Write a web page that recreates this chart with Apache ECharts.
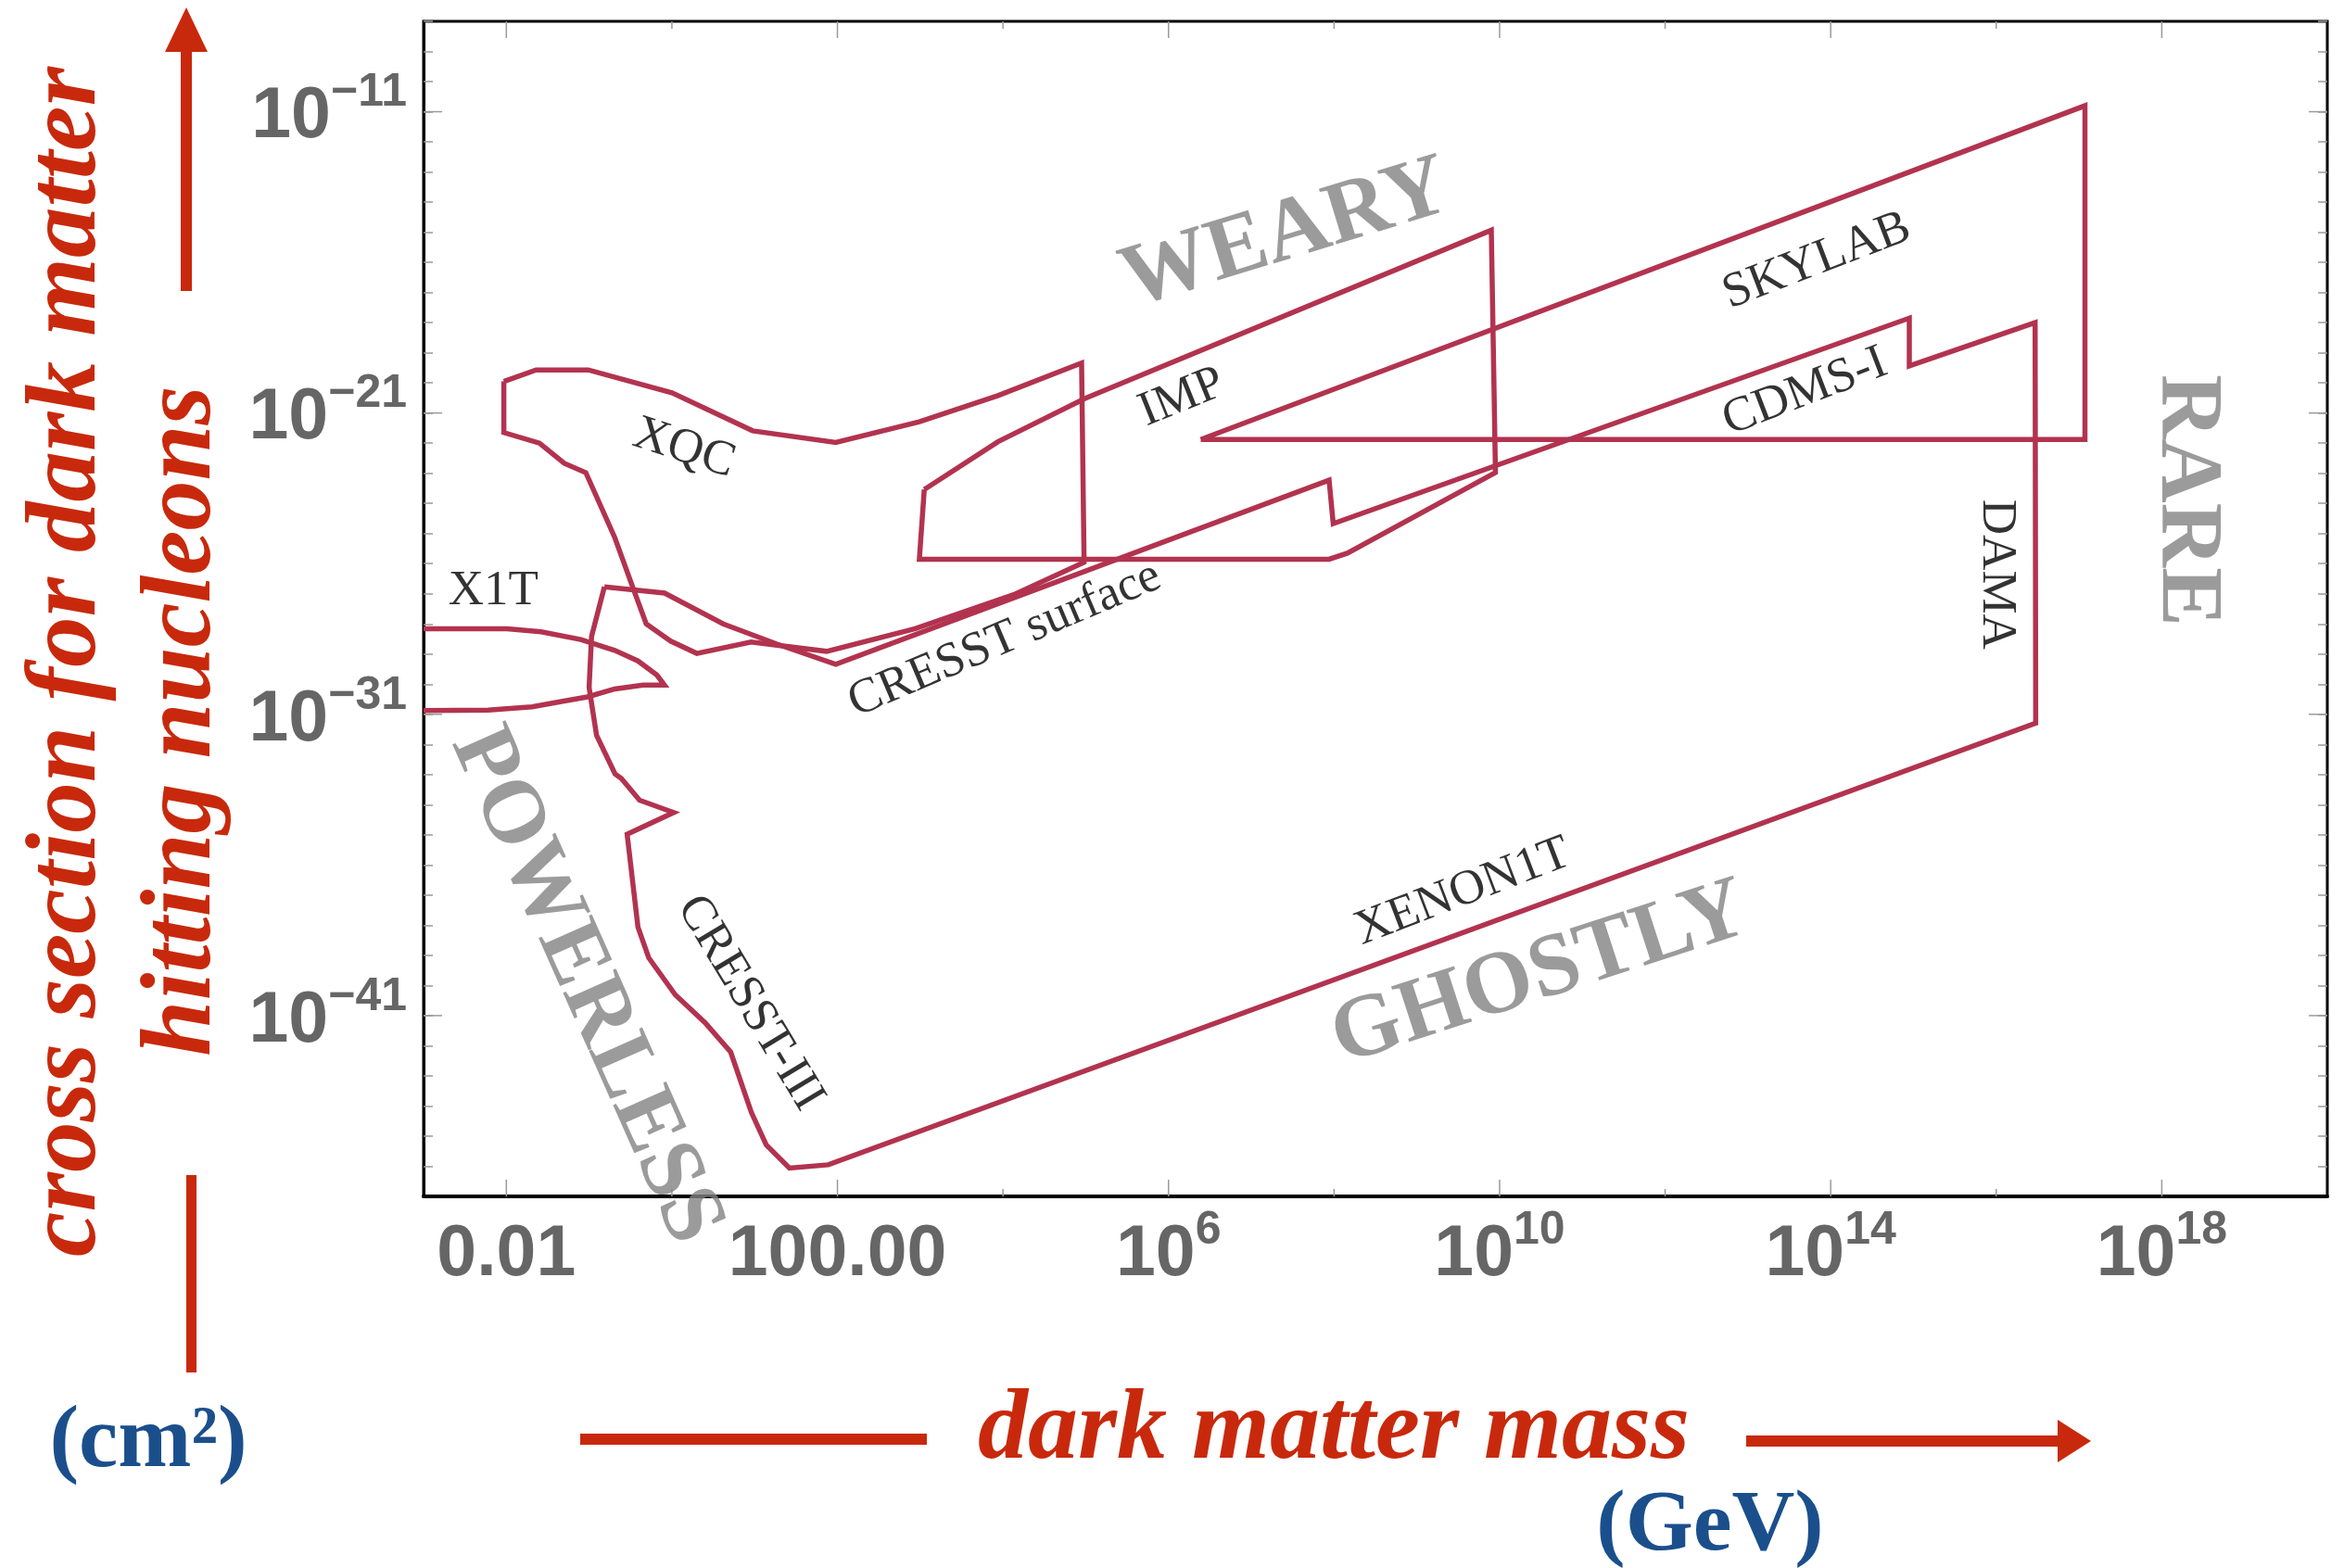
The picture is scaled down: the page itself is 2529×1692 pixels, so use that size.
<!DOCTYPE html>
<html>
<head>
<meta charset="utf-8">
<script src="https://cdn.jsdelivr.net/npm/echarts@6/dist/echarts.min.js"></script>
<style>
html,body{margin:0;padding:0;background:#ffffff;}
#c{width:2529px;height:1692px;}
</style>
</head>
<body>
<div id="c"></div>
<script>
// ---------------- data (mass in GeV, cross section in cm^2) ----------------
const xqcMass  = [9.33e-3, 2.29e-2, 9.77e-2, 1.0, 9.44, 95.5, 977, 8.71e3, 8.91e4, 9.55e4, 1.35e4, 871, 74.1, 9.04, 2.0, 0.966, 0.49, 0.347, 0.204, 0.0912, 0.0501, 0.0251, 9.33e-3, 9.33e-3];
const xqcSigma = [1.12e-20, 2.69e-20, 2.69e-20, 4.68e-21, 2.57e-22, 1.05e-22, 5.13e-22, 3.80e-21, 4.57e-20, 1.12e-26, 9.33e-28, 6.92e-29, 1.23e-29, 2.51e-29, 1.05e-29, 2.69e-29, 1e-28, 1.32e-27, 7.41e-26, 1.05e-23, 2.14e-23, 1e-22, 2.24e-22, 1.12e-20];

// CRESST surface / CDMS-I / DAMA / XENON1T / CRESST-III boundary
const boundMass  = [0.153, 0.817, 4.17, 18.6, 95.5, 8.71e7, 9.77e7, 8.91e14, 8.91e14, 2.95e16, 3.0e16, 77.6, 26.3, 13.8, 9.12, 5.13, 2.51, 1.10, 0.525, 0.389, 0.288, 1.05, 0.407, 0.245, 0.206, 0.123, 0.1, 0.107, 0.153];
const boundSigma = [1.70e-27, 1.05e-27, 1e-28, 2.14e-29, 4.57e-30, 5.89e-24, 2.14e-25, 1.41e-18, 3.63e-20, 1e-18, 5.13e-32, 1.12e-46, 8.71e-47, 5.13e-46, 6.17e-45, 6.17e-43, 5.89e-42, 4.90e-41, 8.32e-40, 8.71e-39, 1.05e-35, 5.50e-35, 1.41e-34, 7.41e-34, 1.05e-33, 2.0e-32, 7.76e-31, 3.80e-29, 1.70e-27];

const impMass  = [1.12e3, 8.71e3, 9.77e4, 7.94e9, 8.91e9, 1.45e8, 8.71e7, 977, 1.12e3];
const impSigma = [2.88e-24, 1.12e-22, 3.02e-21, 1.17e-15, 1.05e-23, 2.24e-26, 1.41e-26, 1.41e-26, 2.88e-24];

const skylabMass  = [2.45e6, 1.18e17, 1.18e17, 2.45e6];
const skylabSigma = [1.32e-22, 1.58e-11, 1.32e-22, 1.32e-22];

const x1tMass  = [1e-3, 1.02e-2, 2.63e-2, 7.94e-2, 0.204, 0.389, 0.661, 0.813, 0.447, 0.204, 0.0955, 0.0479, 0.0204, 6.03e-3, 1e-3];
const x1tSigma = [6.92e-29, 6.92e-29, 5.50e-29, 3.02e-29, 1.32e-29, 5.89e-30, 2.0e-30, 9.33e-31, 9.33e-31, 6.92e-31, 3.80e-31, 2.69e-31, 1.78e-31, 1.38e-31, 1.32e-31];

// experiment labels
const expNames = ['XQC', 'X1T', 'IMP', 'SKYLAB', 'CDMS-I', 'DAMA', 'CRESST surface', 'CRESST-III', 'XENON1T'];
const expMass  = [1.40, 6.97e-3, 1.45e6, 6.8e13, 4.9e13, 1.0e16, 1.05e4, 8.8, 3.6e9];
const expSigma = [6.6e-23, 1.2e-27, 3.2e-21, 1.1e-16, 5.0e-21, 4.4e-27, 3.0e-29, 2.6e-41, 1.26e-37];

// region labels
const regionNames = ['WEARY', 'GHOSTLY', 'POWERLESS', 'RARE'];
const regionMass  = [2.63e7, 3.09e10, 0.0895, 1.95e18];
const regionSigma = [7.76e-16, 2.19e-40, 9.55e-41, 1.26e-24];

// axes
const xMin = 1e-3, xMax = 1e20, yMin = 1e-47, yMax = 1e-8;
const xLabelValues = [1e-2, 1e2, 1e6, 1e10, 1e14, 1e18];
const xLabelBase   = ['0.01', '100.00', '10', '10', '10', '10'];
const xLabelSup    = ['', '', '6', '10', '14', '18'];
const xMinorTicks  = [1, 1e4, 1e8, 1e12, 1e16];
const yLabelValues = [1e-11, 1e-21, 1e-31, 1e-41];
const yLabelSup    = ['\u221211', '\u221221', '\u221231', '\u221241'];

// ---------------- styles ----------------
const CURVE = '#b2334f';
const RED = '#c8290c';
const BLUE = '#1b4f8c';
const TICKC = '#9a9a9a';
const LABELGRAY = '#666666';
const REGIONGRAY = '#828282';
const expAngles = [-18, 0, 22, 21, 21, -90, 23, -59, 21];
const regionAngles = [17, 18, -66, -90];

function expOf(v) { return Math.round(Math.log10(v)); }
function pairs(a, b) { return a.map((v, i) => [v, b[i]]); }

const richTick = {
  b: { fontFamily: 'Liberation Sans', fontWeight: 'bold', fontSize: 77, color: LABELGRAY, lineHeight: 90, verticalAlign: 'bottom' },
  s: { fontFamily: 'Liberation Sans', fontWeight: 'bold', fontSize: 50, color: LABELGRAY, lineHeight: 50, verticalAlign: 'top' }
};

function xLabelFmt(v) {
  const i = xLabelValues.findIndex(t => expOf(t) === expOf(v));
  if (i < 0) return '';
  return xLabelSup[i] ? '{b|' + xLabelBase[i] + '}{s|' + xLabelSup[i] + '}' : '{b|' + xLabelBase[i] + '}';
}
function yLabelFmt(v) {
  const i = yLabelValues.findIndex(t => expOf(t) === expOf(v));
  if (i < 0) return '';
  return '{b|10}{s|' + yLabelSup[i] + '}';
}

function curve(name, m, s) {
  return {
    name, type: 'line', data: pairs(m, s), symbol: 'none', showSymbol: false, silent: true,
    lineStyle: { color: CURVE, width: 5.5, join: 'miter' }, z: 4, animation: false,
    emphasis: { disabled: true }
  };
}

function xTickSeries(values, len) {
  return {
    type: 'custom', silent: true, z: 3, animation: false,
    data: values.map(v => [v, yMin]),
    renderItem: function (params, api) {
      const b = api.coord([api.value(0), yMin]);
      const t = api.coord([api.value(0), yMax]);
      return { type: 'group', children: [
        { type: 'line', shape: { x1: b[0], y1: b[1], x2: b[0], y2: b[1] - len }, style: { stroke: TICKC, lineWidth: 1.5 } },
        { type: 'line', shape: { x1: t[0], y1: t[1], x2: t[0], y2: t[1] + len }, style: { stroke: TICKC, lineWidth: 1.5 } }
      ] };
    }
  };
}
function yTickSeries(values, len) {
  return {
    type: 'custom', silent: true, z: 3, animation: false,
    data: values.map(v => [xMin, v]),
    renderItem: function (params, api) {
      const l = api.coord([xMin, api.value(1)]);
      const r = api.coord([xMax, api.value(1)]);
      return { type: 'group', children: [
        { type: 'line', shape: { x1: l[0], y1: l[1], x2: l[0] + len, y2: l[1] }, style: { stroke: TICKC, lineWidth: 1.5 } },
        { type: 'line', shape: { x1: r[0], y1: r[1], x2: r[0] - len, y2: r[1] }, style: { stroke: TICKC, lineWidth: 1.5 } }
      ] };
    }
  };
}

function labelSeries(names, m, s, angles, style) {
  return {
    type: 'scatter', silent: true, z: 6, animation: false, symbolSize: 0.1,
    itemStyle: { color: 'rgba(0,0,0,0)' },
    data: names.map((n, i) => ({
      value: [m[i], s[i]],
      label: { show: true, formatter: n, rotate: angles[i] }
    })),
    label: Object.assign({ show: true, position: 'inside', align: 'center', verticalAlign: 'middle' }, style),
    emphasis: { disabled: true }
  };
}

const chart = echarts.init(document.getElementById('c'), null, { renderer: 'canvas', width: 2529, height: 1692 });

const option = {
  animation: false,
  backgroundColor: '#ffffff',
  grid: { left: 457, top: 23, width: 2054, height: 1268, containLabel: false, outerBoundsMode: 'none',
          show: true, borderColor: '#000', borderWidth: 3, backgroundColor: 'transparent' },
  xAxis: [{
    type: 'log', logBase: 10, min: xMin, max: xMax, interval: 1, splitNumber: 23, position: 'bottom',
    axisLine: { show: true, lineStyle: { color: '#000', width: 4 } },
    axisTick: { show: false }, minorTick: { show: false }, splitLine: { show: false },
    axisLabel: { show: true, margin: 12, formatter: xLabelFmt, rich: richTick, showMinLabel: true, showMaxLabel: true }
  }],
  yAxis: [{
    type: 'log', logBase: 10, min: yMin, max: yMax, interval: 1, splitNumber: 39, position: 'left',
    axisLine: { show: true, lineStyle: { color: '#000', width: 3 } },
    axisTick: { show: true, inside: true, length: 10, lineStyle: { color: TICKC, width: 1.5 } },
    minorTick: { show: false }, splitLine: { show: false },
    axisLabel: { show: true, margin: 18, formatter: yLabelFmt, rich: richTick }
  }, {
    type: 'log', logBase: 10, min: yMin, max: yMax, interval: 1, splitNumber: 39, position: 'right',
    axisLine: { show: false },
    axisTick: { show: true, inside: true, length: 10, lineStyle: { color: TICKC, width: 1.5 } },
    minorTick: { show: false }, splitLine: { show: false }, axisLabel: { show: false }
  }],
  series: [
    xTickSeries(xLabelValues, 18),
    xTickSeries(xMinorTicks, 8),
    yTickSeries(yLabelValues, 20),
    curve('XQC', xqcMass, xqcSigma),
    curve('bound', boundMass, boundSigma),
    curve('IMP', impMass, impSigma),
    curve('SKYLAB', skylabMass, skylabSigma),
    curve('X1T', x1tMass, x1tSigma),
    labelSeries(expNames, expMass, expSigma, expAngles,
      { fontFamily: 'Liberation Serif', fontSize: 53, color: '#000000' }),
    labelSeries(regionNames, regionMass, regionSigma, regionAngles,
      { fontFamily: 'Liberation Serif', fontWeight: 'bold', fontSize: 96, color: REGIONGRAY })
  ],
  graphic: [
    // y-axis title
    { type: 'text', x: 74, y: 714, rotation: Math.PI / 2, silent: true,
      style: { text: 'cross section for dark matter', fontFamily: 'Liberation Serif', fontStyle: 'italic', fontWeight: 'bold', fontSize: 109, fill: RED, align: 'center', verticalAlign: 'middle' } },
    { type: 'text', x: 198, y: 778, rotation: Math.PI / 2, silent: true,
      style: { text: 'hitting nucleons', fontFamily: 'Liberation Serif', fontStyle: 'italic', fontWeight: 'bold', fontSize: 108, fill: RED, align: 'center', verticalAlign: 'middle' } },
    { type: 'rect', silent: true, shape: { x: 195, y: 50, width: 12, height: 264 }, style: { fill: RED } },
    { type: 'polygon', silent: true, shape: { points: [[178, 56], [224, 56], [201, 8]] }, style: { fill: RED } },
    { type: 'rect', silent: true, shape: { x: 201, y: 1268, width: 11, height: 213 }, style: { fill: RED } },
    { type: 'text', x: 160, y: 1557, silent: true,
      style: { text: '(cm\u00b2)', fontFamily: 'Liberation Serif', fontWeight: 'bold', fontSize: 95, fill: BLUE, align: 'center', verticalAlign: 'middle' } },
    // x-axis title
    { type: 'rect', silent: true, shape: { x: 626, y: 1547, width: 374, height: 12 }, style: { fill: RED } },
    { type: 'text', x: 1439, y: 1545, silent: true,
      style: { text: 'dark matter mass', fontFamily: 'Liberation Serif', fontStyle: 'italic', fontWeight: 'bold', fontSize: 108, fill: RED, align: 'center', verticalAlign: 'middle' } },
    { type: 'rect', silent: true, shape: { x: 1884, y: 1549, width: 340, height: 12 }, style: { fill: RED } },
    { type: 'polygon', silent: true, shape: { points: [[2220, 1532], [2220, 1578], [2256, 1555]] }, style: { fill: RED } },
    { type: 'text', x: 1845, y: 1648, silent: true,
      style: { text: '(GeV)', fontFamily: 'Liberation Serif', fontWeight: 'bold', fontSize: 94, fill: BLUE, align: 'center', verticalAlign: 'middle' } }
  ]
};
chart.setOption(option);
</script>
</body>
</html>
